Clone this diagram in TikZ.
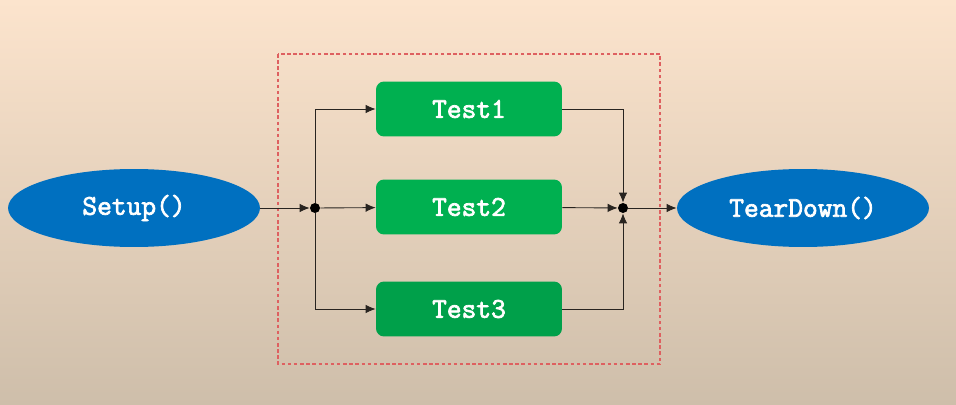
\documentclass[tikz,border=0pt]{standalone}
\usepackage{fontspec}
\setmonofont{Latin Modern Mono}[AutoFakeBold=2.5]
\usetikzlibrary{arrows.meta,shapes.geometric}
\definecolor{bgtop}{RGB}{252,228,205}
\definecolor{bgbot}{RGB}{206,190,170}
\definecolor{testgreen}{RGB}{0,176,80}
\definecolor{testdark}{RGB}{0,160,74}
\definecolor{stepblue}{RGB}{0,112,192}
\definecolor{groupred}{RGB}{222,96,96}
\definecolor{wire}{RGB}{40,36,32}
\begin{document}
\begin{tikzpicture}[x=0.02cm, y=-0.02cm,
    label font/.style={font=\ttfamily\bfseries\fontsize{16.3}{18}\selectfont, text=white},
    stepnode/.style={ellipse, fill=stepblue, inner sep=0pt, minimum width=5.04cm, minimum height=1.56cm, label font},
    testnode/.style={rectangle, rounded corners=0.16cm, fill=testgreen, inner sep=0pt, minimum width=3.72cm, minimum height=1.1cm, label font},
    dot/.style={circle, fill=black, inner sep=0pt, minimum size=0.2cm},
    flow/.style={draw=wire, line width=0.5pt, -{Latex[length=0.2cm, width=0.17cm]}}]

    % background and frame
    \shade[top color=bgtop, middle color=bgtop, bottom color=bgbot] (0,0) rectangle (956,405);
    \useasboundingbox (0,0) rectangle (956,405);

    % the dashed group round the tests
    \draw[groupred, dashed, line width=0.7pt, dash pattern=on 2pt off 1.5pt] (278,54) rectangle (660,364);

    % setup and teardown
    \node[stepnode] (setup) at (134,208) {Setup()};
    \node[stepnode] (teardown) at (803,208) {TearDown()};

    % the tests
    \node[testnode] (test1) at (469,109) {Test1};
    \node[testnode] (test2) at (469,207) {Test2};
    \node[testnode, fill=testdark] (test3) at (469,309) {Test3};

    % split and join points
    \node[dot] (split) at (315,208) {};
    \node[dot] (join) at (623,208) {};

    % draw the arrows
    \draw[flow] (setup) -- (split);
    \draw[flow] (split) |- (test1);
    \draw[flow] (split) -- (test2);
    \draw[flow] (split) |- (test3);
    \draw[flow] (test1) -| (join);
    \draw[flow] (test2) -- (join);
    \draw[flow] (test3) -| (join);
    \draw[flow] (join) -- (teardown);

\end{tikzpicture}
\end{document}
